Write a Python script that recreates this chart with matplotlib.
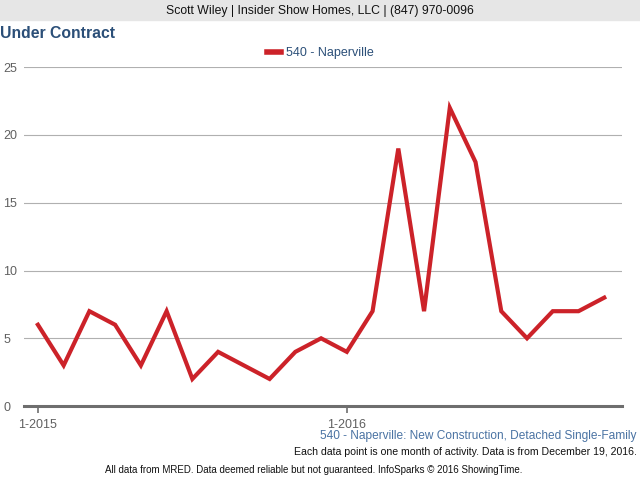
import matplotlib.pyplot as plt

plt.rcParams['font.family'] = ['Liberation Sans', 'DejaVu Sans']

# Monthly "Under Contract" counts, Jan 2015 - Nov 2016
months = ['1-2015', '2-2015', '3-2015', '4-2015', '5-2015', '6-2015',
          '7-2015', '8-2015', '9-2015', '10-2015', '11-2015', '12-2015',
          '1-2016', '2-2016', '3-2016', '4-2016', '5-2016', '6-2016',
          '7-2016', '8-2016', '9-2016', '10-2016', '11-2016']
naperville = [6, 3, 7, 6, 3, 7, 2, 4, 3, 2, 4, 5,
              4, 7, 19, 7, 22, 18, 7, 5, 7, 7, 8]
tick_labels = ['1-2015', '1-2016']
y_ticks = [0, 5, 10, 15, 20, 25]

red = '#cc2229'
blue_title = '#2b4f78'
blue_text = '#4a73a3'

fig = plt.figure(figsize=(6.4, 4.8), dpi=100)
ax = fig.add_axes([0.0375, 0.154, 0.934, 0.706])

x = list(range(len(months)))
ax.plot(x, naperville, color=red, linewidth=3.0, solid_joinstyle='miter')

ax.set_xlim(-0.54, 22.68)
ax.set_ylim(0, 25)
ax.set_yticks(y_ticks)
ax.set_xticks([months.index(t) for t in tick_labels])
ax.set_xticklabels(tick_labels)
ax.grid(axis='y', color='#b0b0b0', linewidth=0.8)
ax.set_axisbelow(True)
for s in ['top', 'right', 'left']:
    ax.spines[s].set_visible(False)
ax.spines['bottom'].set_color('#6e6e6e')
ax.spines['bottom'].set_linewidth(2.2)
ax.tick_params(axis='y', length=0, labelsize=9, labelcolor='#606060', pad=15)
ax.tick_params(axis='x', length=5, width=1.2, color='#6e6e6e',
               labelsize=9, labelcolor='#606060', pad=4)
for lbl in ax.get_yticklabels():
    lbl.set_horizontalalignment('left')

# header bar
fig.patches.append(plt.Rectangle((0, 1 - 20 / 480), 1, 20 / 480,
                                 transform=fig.transFigure, color='#e6e6e6', zorder=0))
fig.text(0.5, 1 - 11 / 480, 'Scott Wiley | Insider Show Homes, LLC | (847) 970-0096',
         ha='center', va='center', fontsize=8.8, color='#111111')
fig.text(0.0, 1 - 34 / 480, 'Under Contract', ha='left', va='center',
         fontsize=11.3, fontweight='bold', color=blue_title)

# legend
leg = fig.legend(['540 - Naperville'], loc='center', bbox_to_anchor=(0.5, 1 - 53 / 480),
                 frameon=False, fontsize=9, handlelength=1.1, handletextpad=0.4,
                 labelcolor=blue_title)
for h in leg.get_lines():
    h.set_linewidth(4)

fig.text(0.995, 1 - 436 / 480, '540 - Naperville: New Construction, Detached Single-Family',
         ha='right', va='center', fontsize=8.6, color=blue_text)
fig.text(0.995, 1 - 452 / 480,
         'Each data point is one month of activity. Data is from December 19, 2016.',
         ha='right', va='center', fontsize=7.55, color='#111111')
fig.text(0.49, 1 - 470 / 480,
         'All data from MRED. Data deemed reliable but not guaranteed. InfoSparks \u00a9 2016 ShowingTime.',
         ha='center', va='center', fontsize=7.0, color='#111111')

fig.savefig('out.png', dpi=100)
